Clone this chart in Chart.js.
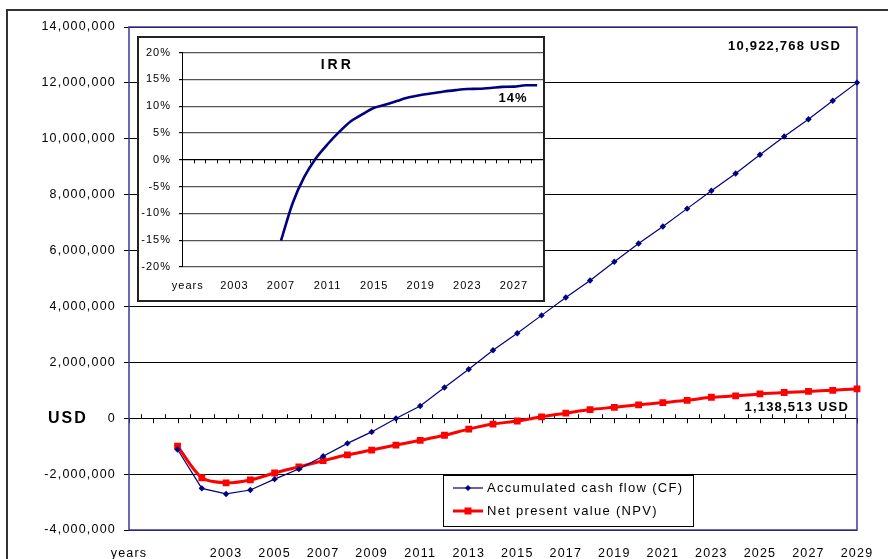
<!DOCTYPE html>
<html>
<head>
<meta charset="utf-8">
<script src="https://cdn.jsdelivr.net/npm/chart.js@4.4.1/dist/chart.umd.min.js"></script>
<style>
html,body{margin:0;padding:0;background:#fff;}
#wrap{position:relative;width:888px;height:559px;overflow:hidden;background:#fff;}
#main{position:absolute;left:0;top:0;}
#insetBox{position:absolute;left:137px;top:36px;width:408px;height:266px;border:2px solid #222;box-sizing:border-box;background:#fff;}
#irr{display:block;}
</style>
</head>
<body>
<div id="wrap">
  <canvas id="main" width="888" height="559"></canvas>
  <div id="insetBox"><canvas id="irr" width="404" height="262"></canvas></div>
</div>
<script>
// ---------- DATA ----------
const categories = ['years','2000','2001','2002','2003','2004','2005','2006','2007','2008','2009',
  '2010','2011','2012','2013','2014','2015','2016','2017','2018','2019',
  '2020','2021','2022','2023','2024','2025','2026','2027','2028','2029'];

const mainXLabels = ['years','2003','2005','2007','2009','2011','2013','2015','2017','2019','2021','2023','2025','2027','2029'];
const irrXLabels = ['years','2003','2007','2011','2015','2019','2023','2027'];

// Accumulated cash flow (USD), 2001..2029
const cashFlow = [null, null,
  -1120000, -2510000, -2710000, -2570000, -2180000, -1820000, -1360000, -900000, -490000,
  -10000, 440000, 1100000, 1750000, 2430000, 3040000, 3680000, 4320000, 4930000, 5600000,
  6250000, 6860000, 7500000, 8140000, 8760000, 9430000, 10080000, 10700000, 11360000, 12010000];

// Net present value (USD), 2001..2029
const npv = [null, null,
  -1000000, -2130000, -2310000, -2210000, -1960000, -1740000, -1520000, -1310000, -1140000,
  -960000, -790000, -610000, -390000, -210000, -100000, 50000, 180000, 310000, 390000,
  480000, 560000, 640000, 750000, 800000, 870000, 920000, 960000, 1000000, 1050000];

// IRR (%), 2007..2029
const irr = [null, null, null, null, null, null, null, null,
  -15.1, -8.1, -3.2, 0.3, 2.9, 5.2, 7.2, 8.5, 9.7, 10.3, 11.0, 11.65, 12.1,
  12.4, 12.75, 13.0, 13.2, 13.25, 13.4, 13.6, 13.65, 13.9, 13.9];

const mainYTicks = [-4000000, -2000000, 0, 2000000, 4000000, 6000000, 8000000, 10000000, 12000000, 14000000];
const irrYTicks = [-20, -15, -10, -5, 0, 5, 10, 15, 20];

const seriesNames = ['Accumulated cash flow (CF)', 'Net present value (NPV)'];
const cfEndLabel = '10,922,768 USD';
const npvEndLabel = '1,138,513 USD';
const irrTitle = 'IRR';
const irrEndLabel = '14%';
const unitLabel = 'USD';

// ---------- STYLE ----------
const FONT = "'Liberation Sans', Arial, Helvetica, sans-serif";
Chart.defaults.font.family = FONT;
Chart.defaults.color = '#000';
const NAVY = '#000080';
const RED = '#ff0000';
const FRAME = '#3a3a9c';

function spacingPlugin(sp){
  return {
    id: 'letterSpacing',
    beforeUpdate(chart){ chart.ctx.letterSpacing = sp; },
    beforeDraw(chart){ chart.ctx.letterSpacing = sp; }
  };
}

function txt(ctx, s, x, y, font, align, sp){
  ctx.save();
  ctx.font = font;
  ctx.letterSpacing = sp;
  ctx.fillStyle = '#000';
  ctx.textAlign = align;
  ctx.textBaseline = 'middle';
  ctx.fillText(s, x, y);
  ctx.restore();
}

const mainDeco = {
  id: 'mainDeco',
  beforeDatasetsDraw(chart){
    const {ctx, chartArea:a, scales:{x, y}} = chart;
    const y0 = y.getPixelForValue(0);
    ctx.save();
    // zero-line tick marks
    ctx.strokeStyle = '#000';
    ctx.lineWidth = 1;
    ctx.beginPath();
    for (let i = 0; i < categories.length; i++){
      const px = Math.round(x.getPixelForValue(i)) + 0.5;
      ctx.moveTo(px, y0); ctx.lineTo(px, y0 + 5);
      if (i < categories.length - 1){
        const pm = Math.round((x.getPixelForValue(i) + x.getPixelForValue(i + 1)) / 2) + 0.5;
        ctx.moveTo(pm, y0 - 4); ctx.lineTo(pm, y0);
      }
    }
    ctx.stroke();
    // plot area frame
    ctx.strokeStyle = FRAME;
    ctx.lineWidth = 1.5;
    ctx.strokeRect(a.left, a.top, a.right - a.left, a.bottom - a.top);
    ctx.restore();
  },
  afterDraw(chart){
    const {ctx, chartArea:a, scales:{y}} = chart;
    ctx.save();
    // outer frame
    ctx.strokeStyle = '#333';
    ctx.lineWidth = 2;
    ctx.beginPath();
    ctx.moveTo(7, 559); ctx.lineTo(7, 10); ctx.lineTo(888, 10);
    ctx.stroke();

    // annotations
    txt(ctx, cfEndLabel, a.right - 16, y.getPixelForValue(13300000), "bold 13px " + FONT, 'right', '1.2px');
    txt(ctx, npvEndLabel, a.right - 8, y.getPixelForValue(400000), "bold 13px " + FONT, 'right', '1.2px');
    txt(ctx, unitLabel, 48, y.getPixelForValue(0), "bold 16px " + FONT, 'left', '2px');

    // legend
    const lx = 443, ly = 475, lw = 250, lh = 51;
    ctx.fillStyle = '#fff';
    ctx.fillRect(lx, ly, lw, lh);
    ctx.strokeStyle = '#000';
    ctx.lineWidth = 1;
    ctx.strokeRect(lx + 0.5, ly + 0.5, lw, lh);
    const r1 = 488, r2 = 511;
    ctx.strokeStyle = NAVY; ctx.lineWidth = 1.2;
    ctx.beginPath(); ctx.moveTo(453, r1); ctx.lineTo(483, r1); ctx.stroke();
    ctx.fillStyle = NAVY;
    ctx.beginPath(); ctx.moveTo(468, r1 - 3); ctx.lineTo(471, r1); ctx.lineTo(468, r1 + 3); ctx.lineTo(465, r1); ctx.closePath(); ctx.fill();
    ctx.strokeStyle = RED; ctx.lineWidth = 3;
    ctx.beginPath(); ctx.moveTo(453, r2); ctx.lineTo(483, r2); ctx.stroke();
    ctx.fillStyle = RED;
    ctx.fillRect(468 - 3.5, r2 - 3.5, 7, 7);
    txt(ctx, seriesNames[0], 487, r1, "13px " + FONT, 'left', '1.3px');
    txt(ctx, seriesNames[1], 487, r2, "13px " + FONT, 'left', '1.3px');
    ctx.restore();
  }
};

new Chart(document.getElementById('main'), {
  type: 'line',
  data: {
    labels: categories,
    datasets: [
      {
        label: seriesNames[0],
        data: cashFlow,
        borderColor: NAVY,
        backgroundColor: NAVY,
        borderWidth: 1.2,
        pointStyle: 'rectRot',
        pointRadius: 3.2,
        pointBorderWidth: 0,
        tension: 0,
        spanGaps: false
      },
      {
        label: seriesNames[1],
        data: npv,
        borderColor: RED,
        backgroundColor: RED,
        borderWidth: 3,
        pointStyle: 'rect',
        pointRadius: 4.8,
        pointBorderWidth: 0,
        tension: 0.3,
        spanGaps: false
      }
    ]
  },
  options: {
    responsive: false,
    animation: false,
    layout: {padding: {left: 0, right: 31, top: 27, bottom: 0}},
    plugins: {legend: {display: false}, tooltip: {enabled: false}},
    scales: {
      x: {
        type: 'category',
        offset: false,
        grid: {display: false, drawTicks: false},
        border: {display: false},
        ticks: {
          autoSkip: false, maxRotation: 0, minRotation: 0, padding: 16,
          color: '#000', font: {size: 12.5},
          callback(v, i){ const l = categories[i]; return mainXLabels.includes(l) ? l : ''; }
        },
        afterFit(s){ s.height = 29; s.paddingRight = 0; s.paddingLeft = 0; }
      },
      y: {
        min: mainYTicks[0],
        max: mainYTicks[mainYTicks.length - 1],
        afterBuildTicks(s){ s.ticks = mainYTicks.map(v => ({value: v})); },
        ticks: {
          color: '#000', padding: 8, font: {size: 12.5},
          callback: v => Number(v).toLocaleString('en-US')
        },
        grid: {color: '#000', lineWidth: 1, drawTicks: true, tickLength: 5, tickColor: '#000'},
        border: {display: false},
        afterFit(s){ s.width = 129; s.paddingTop = 0; s.paddingBottom = 0; }
      }
    }
  },
  plugins: [spacingPlugin('1.2px'), mainDeco]
});

// ---------- INSET IRR ----------
const irrDeco = {
  id: 'irrDeco',
  beforeDatasetsDraw(chart){
    const {ctx, scales:{x, y}} = chart;
    const y0 = y.getPixelForValue(0);
    const w = x.width / categories.length;
    ctx.save();
    ctx.strokeStyle = '#000';
    ctx.lineWidth = 1;
    ctx.beginPath();
    for (let i = 1; i < categories.length; i++){
      const px = Math.round(x.left + i * w) + 0.5;
      ctx.moveTo(px, y0); ctx.lineTo(px, y0 + 3.5);
    }
    ctx.stroke();
    ctx.restore();
  },
  afterDraw(chart){
    const {ctx, chartArea:a, scales:{y}} = chart;
    const W = a.right - a.left;
    txt(ctx, irrTitle, a.left + W * 0.43, y.getPixelForValue(17.6), "bold 14px " + FONT, 'center', '3px');
    txt(ctx, irrEndLabel, a.left + W * 0.957, y.getPixelForValue(11.5), "bold 13px " + FONT, 'right', '1px');
  }
};

new Chart(document.getElementById('irr'), {
  type: 'line',
  data: {
    labels: categories,
    datasets: [{
      label: irrTitle,
      data: irr,
      borderColor: NAVY,
      borderWidth: 2.6,
      pointRadius: 0,
      tension: 0.3,
      spanGaps: false
    }]
  },
  options: {
    responsive: false,
    animation: false,
    layout: {padding: {left: 0, right: 0, top: 11, bottom: 0}},
    plugins: {legend: {display: false}, tooltip: {enabled: false}},
    scales: {
      x: {
        type: 'category',
        offset: true,
        grid: {display: false, drawTicks: false},
        border: {display: false},
        ticks: {
          autoSkip: false, maxRotation: 0, minRotation: 0, padding: 12,
          color: '#000', font: {size: 11},
          callback(v, i){ const l = categories[i]; return irrXLabels.includes(l) ? l : ''; }
        },
        afterFit(s){ s.height = 33; s.paddingRight = 0; s.paddingLeft = 0; }
      },
      y: {
        min: irrYTicks[0],
        max: irrYTicks[irrYTicks.length - 1],
        afterBuildTicks(s){ s.ticks = irrYTicks.map(v => ({value: v})); },
        ticks: {color: '#000', padding: 8, font: {size: 11}, callback: v => v + '%'},
        grid: {
          color: c => (c.tick && c.tick.value === 0) ? '#000' : '#555',
          lineWidth: 1.2, drawTicks: true, tickLength: 3, tickColor: '#000'
        },
        border: {display: true, color: '#000', width: 1},
        afterFit(s){ s.width = 43; }
      }
    }
  },
  plugins: [spacingPlugin('1px'), irrDeco]
});
</script>
</body>
</html>
